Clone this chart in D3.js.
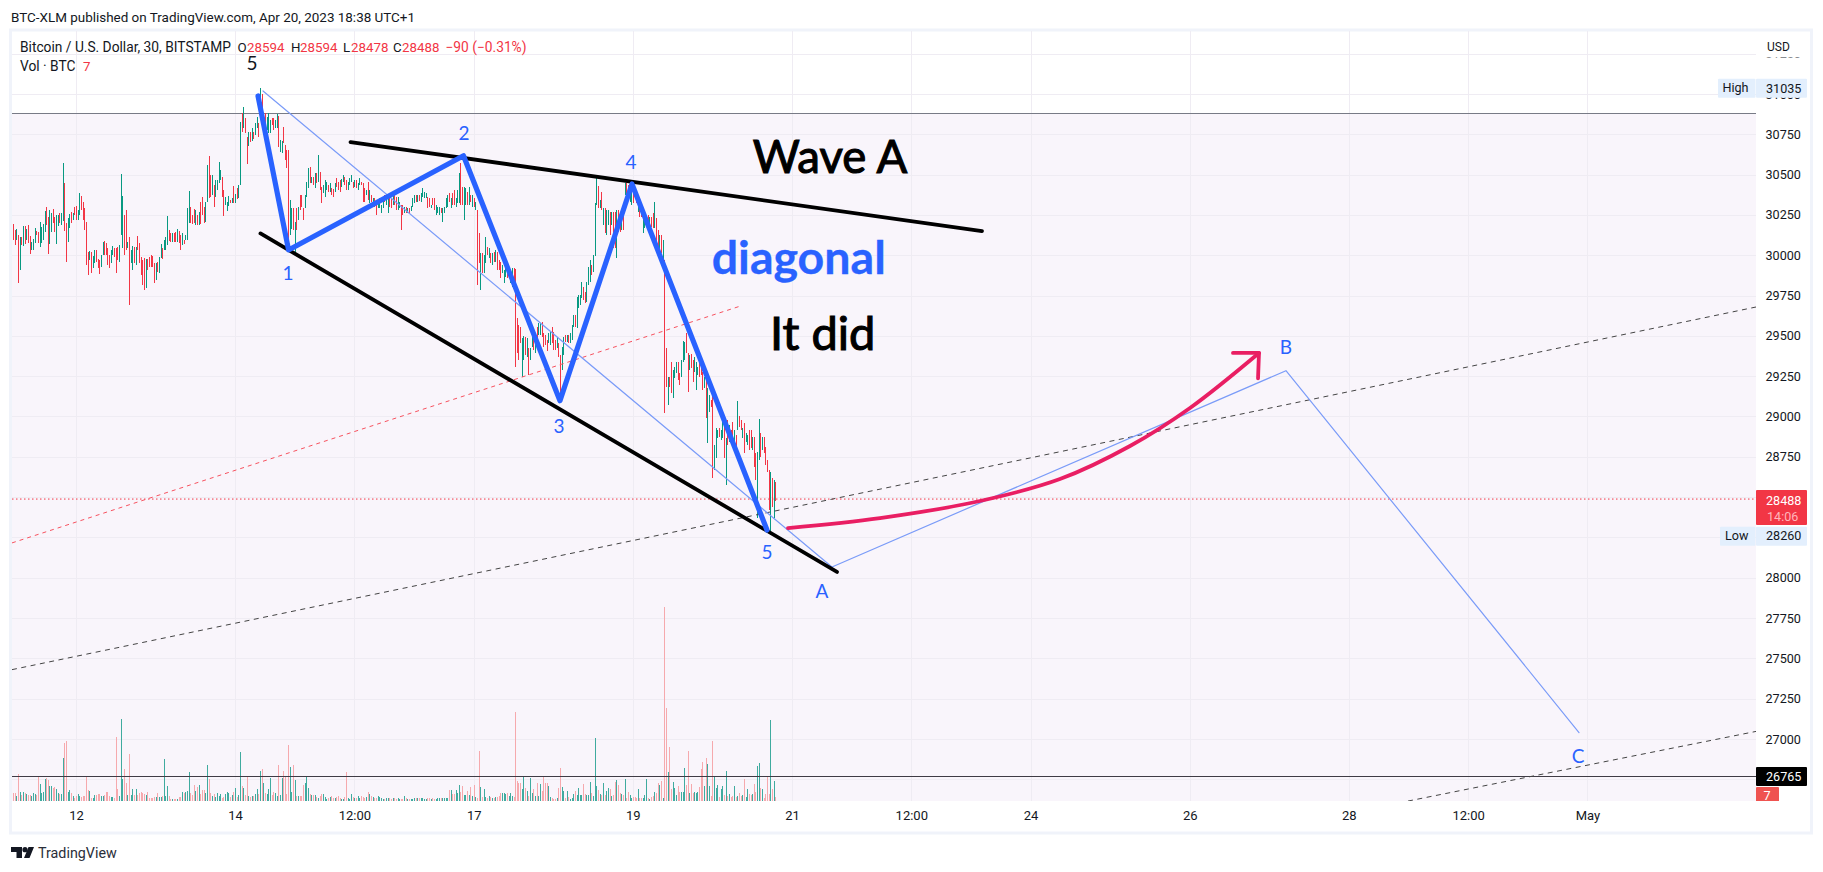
<!DOCTYPE html>
<html><head><meta charset="utf-8">
<script src="https://cdn.jsdelivr.net/npm/d3@7/dist/d3.min.js"></script>
<style>html,body{margin:0;padding:0;background:#fff;overflow:hidden}svg{display:block}text{font-family:Roboto,sans-serif}</style>
</head><body><svg id="c" width="1823" height="872"></svg>
<script>
// First candle is at 39 half-hours before Apr 12 00:00
const firstCandleOffset = -39;
const highs = [
30153,30194,30157,30161,30126,30115,30111,30182,30182,30161,30188,30120,30085,30099,30167,30153,30144,30206,30178,30194,
30277,30297,30240,30281,30260,30285,30240,30250,30250,30264,30264,30570,30446,30202,30229,30256,30271,30260,30302,30306,
30281,30384,30368,30333,30291,30209,30023,30029,30023,29996,30033,30033,29975,29971,30002,30085,30091,30078,30043,30002,
30033,30058,30043,30043,30054,30064,30504,30368,30250,30281,30085,30115,30033,30058,30054,30054,30120,30078,29991,29971,
29981,29975,29975,29991,30002,29996,29950,29954,29960,29991,30070,30043,30095,30115,30244,30157,30136,30136,30136,30147,
30161,30153,30126,30136,30095,30126,30291,30401,30297,30250,30285,30281,30250,30271,30333,30359,30302,30333,30560,30616,
30498,30498,30436,30467,30467,30576,30529,30483,30405,30364,30333,30368,30343,30353,30430,30378,30415,30436,30829,30880,
30922,30849,30736,30767,30767,30787,30767,30822,30860,30818,31035,30998,30880,30880,30860,30880,30839,30849,30849,30839,
30876,30864,30715,30711,30793,30684,30653,30653,30343,30291,30291,30209,30291,30302,30374,30374,30291,30374,30457,30539,
30550,30488,30488,30508,30508,30622,30519,30426,30436,30467,30457,30436,30446,30415,30409,30446,30477,30457,30467,30471,
30498,30488,30467,30457,30477,30498,30457,30467,30467,30446,30477,30457,30446,30415,30405,30457,30405,30374,30353,30353,
30312,30343,30353,30312,30364,30374,30364,30353,30364,30353,30374,30384,30364,30364,30333,30312,30312,30302,30302,30291,
30291,30306,30353,30374,30374,30374,30374,30384,30415,30395,30384,30364,30353,30312,30353,30353,30312,30302,30302,30291,
30291,30302,30353,30374,30384,30353,30384,30405,30353,30405,30508,30570,30426,30426,30415,30395,30426,30374,30374,30353,
30333,30281,30136,30012,30012,30002,30116,30054,30043,30012,30012,30023,30033,30023,29971,29961,29940,29909,29919,29909,
29909,29909,29919,29919,29915,29609,29568,29558,29485,29500,29495,29485,29423,29423,29506,29516,29495,29558,29578,29582,
29589,29516,29506,29475,29516,29526,29558,29526,29475,29495,29454,29382,29433,29495,29506,29506,29506,29516,29568,29630,
29630,29743,29754,29754,29837,29806,29775,29837,29930,29971,29940,30002,30322,30477,30430,30343,30395,30291,30291,30281,
30281,30271,30271,30271,30271,30281,30281,30229,30229,30250,30446,30446,30436,30446,30436,30426,30415,30395,30353,30353,
30322,30281,30281,30229,30250,30240,30240,30260,30333,30229,30157,30126,30126,30095,29971,29423,29247,29247,29340,29289,
29309,29340,29340,29268,29351,29471,29465,29516,29392,29382,29388,29351,29371,29340,29309,29330,29330,29278,29247,29237,
29174,29133,29102,29154,28823,28926,28916,28926,28916,29009,28978,28864,28978,28947,28916,28968,28916,28885,29096,29003,
28978,28926,28957,28895,28885,28916,28916,28875,28875,28771,28782,28982,28895,28875,28870,28813,28730,28668,28658,28616,
28606,28594];
const lows = [
30008,30095,30064,30095,29830,29909,30064,30060,30070,30095,30074,30008,30033,30033,30078,30126,30074,30049,30074,30095,
30147,30188,30008,30070,30147,30198,30147,30070,30182,30202,30188,30215,30153,29958,30085,30167,30198,30219,30250,30219,
30219,30250,30281,30219,30157,29940,29878,29971,29892,29919,29950,29960,29919,29884,29930,30002,30002,30002,29940,29919,
29950,30002,29991,29892,29971,29960,30126,30043,30002,30033,30043,29694,29950,29909,29950,29940,30033,29950,29878,29816,
29785,29795,29909,29930,29930,29930,29830,29847,29898,29892,29981,29975,30033,30033,30064,30091,30085,30085,30085,30085,
30085,30074,30033,30064,30070,30095,30095,30198,30202,30194,30198,30188,30188,30188,30194,30250,30202,30209,30333,30353,
30364,30374,30302,30364,30405,30446,30467,30364,30244,30312,30277,30306,30322,30322,30322,30322,30347,30353,30436,30767,
30787,30760,30566,30678,30705,30711,30719,30746,30787,30736,30880,30840,30808,30798,30777,30756,30756,30808,30777,30787,
30787,30674,30643,30636,30694,30591,30539,30033,30126,30161,30157,30002,30157,30219,30281,30302,30219,30291,30364,30415,
30446,30446,30436,30415,30446,30457,30405,30322,30384,30364,30405,30395,30395,30374,30364,30395,30426,30405,30395,30426,
30457,30436,30405,30405,30436,30457,30415,30426,30415,30405,30436,30436,30333,30333,30374,30343,30322,30333,30312,30302,
30250,30291,30291,30260,30291,30333,30312,30260,30302,30291,30312,30312,30281,30281,30291,30157,30250,30260,30260,30260,
30264,30277,30302,30326,30333,30333,30339,30333,30364,30353,30353,30291,30297,30291,30312,30281,30250,30260,30250,30260,
30209,30260,30291,30302,30333,30291,30312,30312,30302,30322,30322,30312,30312,30219,30312,30312,30312,30333,30302,30302,
30281,29816,29950,29785,29888,29888,29950,30002,29981,29950,29940,29960,29960,29909,29909,29857,29888,29826,29867,29857,
29867,29826,29805,29805,29305,29392,29351,29454,29247,29351,29382,29371,29258,29351,29433,29413,29392,29433,29506,29506,
29495,29433,29444,29409,29454,29444,29454,29413,29413,29423,29371,29134,29289,29382,29464,29464,29458,29458,29475,29558,
29558,29547,29671,29692,29733,29723,29702,29713,29816,29837,29878,29899,29996,30312,30291,30291,30281,30188,30136,30126,
30188,30126,30188,30043,30043,29981,30147,30147,30157,30157,30374,30364,30364,30333,30312,30322,30353,30322,30271,30240,
30240,30140,30167,30188,30178,30178,30178,30167,30167,30085,30054,30033,30012,29971,29020,29185,29072,29185,29144,29113,
29237,29268,29227,29196,29247,29340,29351,29392,29155,29289,29299,29216,29278,29165,29258,29247,29258,29165,29175,28989,
28833,29030,29061,28616,28668,28740,28864,28875,28854,28864,28740,28575,28823,28844,28823,28864,28792,28813,28916,28937,
28916,28864,28771,28844,28823,28792,28802,28792,28689,28606,28368,28730,28751,28792,28771,28699,28658,28420,28265,28441,
28368,28478];
const dirs = [
"uddudududu","dduuudduuu","udduudduud","uudduududd","uudddddudu","uddduudddd","uuddduuudd","uduududddd","dudddddudu","uduuuddudd",
"udduduuudd","dududdduud","duduuuuddu","uudududuud","uddududuud","ududuuuddu","uduuddddu"+"u","dududdduuu","dudududduu","ududdudddu",
"udduuududu","udddududud","duuuuduudd","udduuddudu","duuududuuu","uddudduuud","uuuududduu","udduududud","udduduudud","ududdduuud",
"uuuddddduu","duduududuu","dddduudddu","dduududuuu","duuuudduuu","duuudududu","ududduddud","udduudddud","duuududdud","dududduddu",
"uudduuuddu","dduuudddud","uudduuuduu","dududdudud","duduuddudd","uududdddudud"].join("");
const volumes = [
7,8,8,5,27,9,6,9,8,7,6,6,5,8,7,6,24,17,8,9,
22,23,21,15,15,13,14,12,8,7,7,43,58,60,9,11,8,5,3,5,
7,5,4,5,5,24,11,10,3,3,6,6,7,7,5,5,6,9,9,5,
4,4,3,64,12,5,82,22,32,18,6,47,6,12,6,12,6,8,9,8,
7,6,9,3,3,3,4,4,8,4,4,5,42,5,15,5,2,2,2,2,
2,4,4,9,8,9,10,29,8,6,16,10,14,16,7,11,11,8,36,22,
8,5,7,4,8,5,7,3,4,7,9,8,4,6,9,13,4,6,49,15,
13,6,24,5,4,5,5,7,12,7,30,32,18,8,7,12,23,6,9,8,
5,36,6,23,30,25,7,56,34,9,36,21,5,5,5,5,16,18,24,13,
7,6,6,6,4,3,5,7,7,4,2,3,4,5,3,3,4,5,3,2,
2,4,29,3,2,7,4,3,3,5,3,5,4,3,4,9,7,5,4,3,
3,5,4,3,2,2,3,3,3,2,3,3,2,3,2,2,2,5,3,2,
2,2,2,3,3,3,3,3,3,2,2,3,3,2,3,2,2,3,3,3,
3,3,3,3,11,11,7,7,11,8,16,9,15,6,6,10,6,14,5,16,
4,3,50,14,4,12,4,3,5,4,3,3,4,4,5,8,8,8,7,8,
5,8,5,4,89,20,18,18,12,24,13,10,5,23,8,12,5,18,5,17,
10,24,18,18,15,4,3,2,2,3,13,33,14,10,3,10,4,2,3,7,
10,6,13,6,6,17,7,6,6,19,8,5,63,15,11,7,6,18,6,10,
13,12,5,6,19,21,16,8,7,6,22,3,9,6,3,4,4,3,12,3,
3,3,6,22,3,2,4,5,9,8,18,16,20,3,194,93,29,54,12,19,
13,6,15,9,9,9,33,16,50,8,17,8,9,8,9,14,32,39,15,43,
37,15,5,60,25,13,16,4,12,15,6,30,5,7,4,5,15,4,5,8,
5,6,22,4,12,7,6,7,17,9,35,38,13,12,3,7,25,7,81,12,
20,4];

const priceTicks = [26750,27000,27250,27500,27750,28000,28250,28500,28750,29000,29250,29500,29750,30000,30250,30500,30750,31000,31250];
const timeTicks = [12,14,15.5,17,19,21,22.5,24,26,28,29.5,31];
const timeLabels = ["12","14","12:00","17","19","21","12:00","24","26","28","12:00","May"];

// Drawings: [day of April, price]
const waveDays = [14.288,14.672,16.871,18.084,18.989,20.686];
const wavePrices = [30988,30033,30617,29098,30442,28296];
const upperDays = [15.451,23.389], upperPrices = [30702,30150];
const lowerDays = [14.319,21.566], lowerPrices = [30135,28036];
const thinDays = [14.351,21.503,27.21,30.894], thinPrices = [31019,28067,29284,27040];
const redDays = [11.195,20.334], redPrices = [28216,29682];
const dash1Days = [11.195,33.119], dash1Prices = [27430,29679];
const dash2Days = [28.744,33.119], dash2Prices = [26615,27047];
const curveDays = [20.95,22.107,23.364,24.369,25.25,26.004,26.871];
const curvePrices = [28308,28370,28476,28612,28817,29053,29394];
const headDays = [26.544,26.871,26.859], headPrices = [29394,29394,29236];
const labelTexts = ["1","2","3","4","5","A","B","C"];
const labelDays = [14.665,16.877,18.072,18.977,20.686,21.378,27.21,30.881];
const labelPrices = [29890,30764,28944,30581,28160,27920,29434,26895];

const shadeTop = 30879, supportPrice = 26765, lastPrice = 28488, highPrice = 31035, lowPrice = 28260;

const L=12,R=1756,T=31,B=801;
const x = d3.scaleLinear().domain([12,31]).range([76,1587.45]);
const y = d3.scaleLinear().domain([26750,31000]).range([779.3,94]);
const yVol = d3.scaleLinear().domain([0,200]).range([801,601]);
const svg = d3.select("#c");
const TEAL="#089981",RED="#f23645",BLUE="#2962ff",INK="#131722";
const drawFont="Lato,'Open Sans',sans-serif";

// frame
svg.append("rect").attr("x",10.5).attr("y",30).attr("width",1801).attr("height",803).attr("fill","#fff").attr("stroke","#f0f3fa").attr("stroke-width",3);
svg.append("defs").append("clipPath").attr("id","plot").append("rect").attr("x",L).attr("y",T).attr("width",R-L).attr("height",B-T);
const plot = svg.append("g").attr("clip-path","url(#plot)");
plot.append("rect").attr("x",L).attr("width",R-L).attr("y",y(shadeTop)).attr("height",B-y(shadeTop)).attr("fill","#f9f5fb");
// grid
plot.selectAll(".gy").data(priceTicks).join("line").attr("x1",L).attr("x2",R).attr("y1",d=>Math.round(y(d))+.5).attr("y2",d=>Math.round(y(d))+.5).attr("stroke","#efecf3");
plot.selectAll(".gx").data(timeTicks).join("line").attr("y1",T).attr("y2",B).attr("x1",d=>Math.round(x(d))+.5).attr("x2",d=>Math.round(x(d))+.5).attr("stroke","#efecf3");
// volume
const t = i => 12+(i+firstCandleOffset)/48;
plot.append("g").attr("shape-rendering","crispEdges").selectAll("rect").data(volumes).join("rect")
 .attr("x",(d,i)=>Math.round(x(t(i)))).attr("width",1).attr("y",d=>yVol(d)).attr("height",d=>801-yVol(d))
 .attr("fill",(d,i)=>dirs[i]==="u"?"#40ab9f":"#f6a9ad");
// horizontal levels
plot.append("line").attr("x1",L).attr("x2",R).attr("y1",Math.floor(y(shadeTop))+.5).attr("y2",Math.floor(y(shadeTop))+.5).attr("stroke","#787b86");
plot.append("line").attr("x1",L).attr("x2",R).attr("y1",Math.floor(y(supportPrice))+.5).attr("y2",Math.floor(y(supportPrice))+.5).attr("stroke","#3f3b45");
plot.append("line").attr("x1",L).attr("x2",R).attr("y1",y(lastPrice)).attr("y2",y(lastPrice)).attr("stroke",RED).attr("stroke-dasharray","1.5 2.5");
// candles
plot.append("g").attr("shape-rendering","crispEdges").selectAll("rect").data(highs).join("rect")
 .attr("x",(d,i)=>Math.round(x(t(i)))).attr("width",1).attr("y",d=>y(d)).attr("height",(d,i)=>y(lows[i])-y(d))
 .attr("fill",(d,i)=>dirs[i]==="u"?TEAL:RED);
// drawings
const line = (ds,ps,c)=>{const g=d3.line().x(i=>x(ds[i])).y(i=>y(ps[i]));if(c)g.curve(c);return g(d3.range(ds.length));};
const path=(ds,ps,col,w,dash,c)=>plot.append("path").attr("d",line(ds,ps,c)).attr("fill","none").attr("stroke",col).attr("stroke-width",w).attr("stroke-dasharray",dash||null).attr("stroke-linecap","round").attr("stroke-linejoin","round");
path(redDays,redPrices,"#f7525f",1,"4 4").attr("stroke-linecap","butt");
path(dash1Days,dash1Prices,"#444",1,"5 4.5").attr("stroke-linecap","butt");
path(dash2Days,dash2Prices,"#444",1,"5 4.5").attr("stroke-linecap","butt");
path(thinDays,thinPrices,"#7a9bf8",1.2);
path(upperDays,upperPrices,"#000",3.8);
path(lowerDays,lowerPrices,"#000",3.8);
path(waveDays,wavePrices,BLUE,5.2);
path(curveDays,curvePrices,"#e91e63",3.8,null,d3.curveCatmullRom);
path(headDays,headPrices,"#e91e63",3.8);
plot.selectAll(".lb").data(labelTexts).join("text").attr("x",(d,i)=>x(labelDays[i])).attr("y",(d,i)=>y(labelPrices[i])).attr("text-anchor","middle").attr("dominant-baseline","central").attr("fill",BLUE).attr("font-size",19).style("font-family",drawFont).text(d=>d);
svg.append("text").attr("x",x(14.212)).attr("y",y(31198)).attr("text-anchor","middle").attr("dominant-baseline","central").attr("fill","#131722").attr("font-size",19).style("font-family",drawFont).text("5");
const big=(s,d,p,col,w,sz,st)=>plot.append("text").attr("x",x(d)).attr("y",y(p)).attr("text-anchor","middle").attr("fill",col).attr("font-size",sz).attr("font-weight",w).attr("stroke",col).attr("stroke-width",st).style("font-family",drawFont).text(s);
big("Wave A",21.478,30512,"#000",400,45.5,1.1);
big("diagonal",21.085,29884,BLUE,700,46.5,0.3);
big("It did",21.387,29412,"#000",400,47,1.1);

// price axis
const ay = svg.append("g").attr("transform",`translate(${R},0)`).call(d3.axisRight(y).tickValues(priceTicks).tickSize(0).tickPadding(9.5).tickFormat(d3.format("d")));
ay.select(".domain").remove();
ay.selectAll("text").attr("fill",INK).attr("font-size",12.6).style("font-family","Roboto");
svg.append("rect").attr("x",R).attr("y",32).attr("width",54).attr("height",25.5).attr("fill","#fff");
svg.append("text").attr("x",1767).attr("y",50.5).attr("fill",INK).attr("font-size",12).text("USD");
// time axis
const ax = svg.append("g").attr("transform",`translate(0,${B})`).call(d3.axisBottom(x).tickValues(timeTicks).tickSize(0).tickPadding(10).tickFormat((d,i)=>timeLabels[i]));
ax.select(".domain").remove();
ax.selectAll("text").attr("fill",INK).attr("font-size",13).style("font-family","Roboto");

// tags
const tag=(px,w,py,h,fill)=>svg.append("rect").attr("x",px).attr("y",py).attr("width",w).attr("height",h).attr("rx",1).attr("fill",fill);
const txt=(s,px,py,col,size,anchor)=>svg.append("text").attr("x",px).attr("y",py).attr("fill",col).attr("font-size",size||12.6).attr("text-anchor",anchor||"start").attr("dominant-baseline","central").text(s);
tag(1718,37.5,y(highPrice)-9.5,19,"#e3effd");tag(1756,51,y(highPrice)-9.5,19,"#e3effd");
txt("High",1722.5,y(highPrice)-1,INK);txt(highPrice,1766,y(highPrice),INK);
tag(1720,35.5,y(lowPrice)-9,19,"#e3effd");tag(1756,51,y(lowPrice)-9,19,"#e3effd");
txt("Low",1725,y(lowPrice),INK);txt(lowPrice,1766,y(lowPrice),INK);
tag(1756,51,490,35,RED);
txt(lastPrice,1766,500,"#fff");txt("14:06",1767,516,"#ffb5bb");
tag(1756,51,767,19,"#000");txt(supportPrice,1766,y(supportPrice),"#fff");
const volTag = svg.append("g").attr("clip-path","url(#plotAxis)");
svg.select("defs").append("clipPath").attr("id","plotAxis").append("rect").attr("x",R).attr("y",T).attr("width",56).attr("height",B-T);
volTag.append("rect").attr("x",R).attr("y",787).attr("width",23).attr("height",20).attr("rx",1).attr("fill","#ef5350");
volTag.append("text").attr("x",1767).attr("y",795.5).attr("text-anchor","middle").attr("dominant-baseline","central").attr("fill","#fff").attr("font-size",12.6).text("7");

// header & legend
svg.append("text").attr("x",11).attr("y",22).attr("fill",INK).attr("font-size",13.45).text("BTC-XLM published on TradingView.com, Apr 20, 2023 18:38 UTC+1");
const leg=(s,px,py,col,sz)=>svg.append("text").attr("x",px).attr("y",py).attr("fill",col).attr("font-size",sz||13.3).text(s);
leg("Bitcoin / U.S. Dollar, 30, BITSTAMP",20,52,INK,13.75);
leg("O",237.5,52,INK);leg("28594",247,52,RED);
leg("H",291,52,INK);leg("28594",300,52,RED);
leg("L",343,52,INK);leg("28478",351,52,RED);
leg("C",393,52,INK);leg("28488",402,52,RED);
leg("−90 (−0.31%)",445.5,52,RED,13.75);
leg("Vol · BTC",20,71,INK,13.75);leg("7",83,71,RED);

// logo
svg.append("path").attr("d","M11 847h11v11h-5.5v-6H11z M34 847l-4.5 11h-5.5l4.5-11z").attr("fill","#131722");
svg.append("circle").attr("cx",25).attr("cy",849.7).attr("r",2.6).attr("fill","#131722");
svg.append("text").attr("x",38).attr("y",858).attr("fill","#2a2e39").attr("font-size",14.3).text("TradingView");
</script></body></html>
